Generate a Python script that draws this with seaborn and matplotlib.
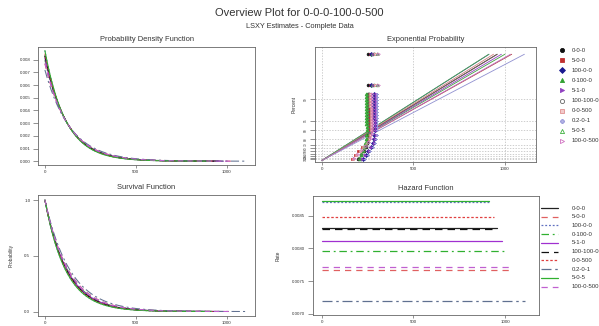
import numpy as np
import pandas as pd
import matplotlib
matplotlib.use("Agg")
import matplotlib.pyplot as plt
from matplotlib.lines import Line2D
import seaborn as sns

sns.set_theme(style="white")
plt.rcParams["font.family"] = ["Liberation Sans", "DejaVu Sans"]

# ---- data -------------------------------------------------------------
series = ["0-0-0", "5-0-0", "100-0-0", "0-100-0", "5-1-0",
          "100-100-0", "0-0-500", "0.2-0-1", "5-0-5", "100-0-500"]

# fitted exponential failure rate of each configuration
hazard_rate = [0.00831, 0.00767, 0.00871, 0.007955, 0.00811,
               0.00830, 0.00848, 0.00719, 0.00872, 0.00772]

# upper plotting percentile for the fitted lines
upper_pct = 99.965

# median-rank percent of each plotted failure (top to bottom)
rank_pct = [99.965, 99.64, 99.30, 99.12, 98.90, 98.62, 98.27, 97.84,
            97.29, 96.61, 95.75, 94.67, 93.33, 91.63, 89.52, 85.84,
            80.87, 74.16, 65.1, 52.85, 36.3, 14.0]

fail_times = {
    "0-0-0":     [255, 255, 251, 251, 252, 252, 252, 253, 253, 253, 254,
                  254, 254, 255, 255, 255, 254, 249, 241, 229, 215, 201],
    "5-0-0":     [262, 262, 257, 257, 257, 258, 258, 258, 259, 259, 259,
                  259, 260, 260, 259, 257, 252, 240, 222, 200, 182, 166],
    "100-0-0":   [268, 268, 286, 286, 287, 287, 287, 288, 288, 288, 288,
                  289, 289, 289, 289, 288, 285, 279, 268, 255, 240, 226],
    "0-100-0":   [274, 274, 243, 243, 243, 244, 244, 244, 244, 245, 245,
                  245, 245, 246, 246, 245, 243, 239, 233, 225, 216, 207],
    "5-1-0":     [281, 281, 295, 295, 296, 296, 296, 297, 297, 297, 298,
                  298, 298, 298, 298, 297, 293, 285, 272, 256, 239, 223],
    "100-100-0": [288, 288, 261, 261, 262, 262, 262, 263, 263, 263, 263,
                  264, 264, 264, 264, 263, 260, 254, 245, 233, 219, 205],
    "0-0-500":   [294, 294, 265, 265, 266, 266, 266, 267, 267, 267, 268,
                  268, 268, 268, 267, 264, 257, 245, 228, 208, 189, 172],
    "0.2-0-1":   [300, 300, 302, 302, 303, 303, 303, 304, 304, 304, 305,
                  305, 305, 305, 304, 302, 298, 290, 279, 265, 251, 238],
    "5-0-5":     [307, 307, 248, 248, 249, 249, 249, 249, 250, 250, 250,
                  250, 251, 251, 251, 250, 248, 244, 237, 228, 218, 208],
    "100-0-500": [313, 313, 280, 280, 281, 281, 281, 282, 282, 282, 283,
                  283, 283, 283, 282, 279, 272, 260, 243, 222, 200, 180],
}

prob_ticks = [10, 20, 30, 40, 50, 60, 70, 80, 90, 95, 99]

# ---- styles -----------------------------------------------------------
line_colors = ["#222222", "#e06060", "#6070c0", "#30b030", "#a030d0",
               "#111111", "#e04040", "#607090", "#30b030", "#c060d0"]
line_dashes = ["", (5, 4), (1.5, 1.5), (6, 3, 1.5, 3), "",
               (6, 4), (2, 1.5), (8, 3, 2, 3), "", (5, 4)]

fit_colors = ["#222222", "#b04040", "#3030a0", "#40a040", "#9040c0",
              "#806060", "#d08080", "#9090d0", "#50b050", "#c070c0"]
mk_shape = ["o", "s", "D", "^", ">", "o", "s", "P", "^", ">"]
mk_face = ["#111111", "#c03030", "#1a1a90", "#30a030", "#9040c0",
           "none", "#f2caca", "#b8b8e8", "none", "none"]
mk_edge = ["#111111", "#c03030", "#1a1a90", "#30a030", "#9040c0",
           "#666666", "#e09090", "#9898d8", "#40b040", "#d070c0"]

# ---- long-form tables -------------------------------------------------
rows = []
for name, lam in zip(series, hazard_rate):
    t_end = -np.log(1 - upper_pct / 100) / lam
    t = np.linspace(0, t_end, 200)
    rows.append(pd.DataFrame({
        "series": name, "t": t,
        "pdf": lam * np.exp(-lam * t),
        "surv": np.exp(-lam * t),
        "rate": np.full_like(t, lam),
        "fit": lam * t,
    }))
curves = pd.concat(rows, ignore_index=True)

pts = pd.DataFrame([
    {"series": name, "t": tt, "q": -np.log(1 - p / 100)}
    for name in series for tt, p in zip(fail_times[name], rank_pct)
])

pal_lines = dict(zip(series, line_colors))
dash_map = dict(zip(series, line_dashes))
pal_fit = dict(zip(series, fit_colors))

# ---- figure -----------------------------------------------------------
W, H = 599, 326
fig = plt.figure(figsize=(W / 100, H / 100), dpi=100)


def box(l, t, r, b):
    return [l / W, 1 - b / H, (r - l) / W, (b - t) / H]


def fx(x):
    return x / W


def fy(y):
    return 1 - y / H


ax_pdf = fig.add_axes(box(38, 47, 255, 165))
ax_prob = fig.add_axes(box(315, 47, 536, 162))
ax_surv = fig.add_axes(box(38, 195, 255, 316))
ax_haz = fig.add_axes(box(313, 196, 539, 315))

txt = "#333333"
edge = "#666666"
for ax in (ax_pdf, ax_prob, ax_surv, ax_haz):
    for sp in ax.spines.values():
        sp.set_color(edge)
        sp.set_linewidth(0.6)
    ax.tick_params(direction="out", length=3.5, width=0.5, color=edge,
                   labelsize=3.2, labelcolor=txt, pad=2,
                   left=True, bottom=True)
    ax.tick_params(axis="x", length=2.5, pad=1)
    ax.set_xticks([0, 500, 1000])

# probability density
sns.lineplot(data=curves, x="t", y="pdf", hue="series", style="series",
             palette=pal_lines, dashes=dash_map, lw=0.75, legend=False,
             estimator=None, sort=False, ax=ax_pdf)
ax_pdf.set_xlim(-38, 1155)
ax_pdf.set_ylim(-0.0003, 0.0090)
pdf_ticks = [0.000, 0.001, 0.002, 0.003, 0.004, 0.005, 0.006, 0.007, 0.008]
ax_pdf.set_yticks(pdf_ticks)
ax_pdf.set_yticklabels([f"{v:.3f}" for v in pdf_ticks])
ax_pdf.set_title("Probability Density Function", fontsize=5.4, color=txt, pad=4)
ax_pdf.set_xlabel("")
ax_pdf.set_ylabel("")

# survival
sns.lineplot(data=curves, x="t", y="surv", hue="series", style="series",
             palette=pal_lines, dashes=dash_map, lw=0.75, legend=False,
             estimator=None, sort=False, ax=ax_surv)
ax_surv.set_xlim(-38, 1155)
ax_surv.set_ylim(-0.04, 1.045)
ax_surv.set_yticks([0.0, 0.5, 1.0])
ax_surv.set_yticklabels(["0.0", "0.5", "1.0"])
ax_surv.set_title("Survival Function", fontsize=5.4, color=txt, pad=4)
ax_surv.set_xlabel("")
ax_surv.set_ylabel("Probability", fontsize=3.5, color=txt, labelpad=8)

# hazard
sns.lineplot(data=curves, x="t", y="rate", hue="series", style="series",
             palette=pal_lines, dashes=dash_map, lw=0.9, legend=False,
             estimator=None, sort=False, ax=ax_haz)
ax_haz.set_xlim(-47, 1185)
ax_haz.set_ylim(0.00698, 0.0088)
haz_ticks = [0.0070, 0.0075, 0.0080, 0.0085]
ax_haz.set_yticks(haz_ticks)
ax_haz.set_yticklabels([f"{v:.4f}" for v in haz_ticks])
ax_haz.set_title("Hazard Function", fontsize=5.4, color=txt, pad=4)
ax_haz.set_xlabel("")
ax_haz.set_ylabel("Rate", fontsize=3.5, color=txt, labelpad=8)

# exponential probability plot
qt = [-np.log(1 - p / 100) for p in prob_ticks]
for v in qt:
    ax_prob.axhline(v, color="#bbbbbb", lw=0.5, ls=(0, (2, 2)), zorder=0)
for v in (0, 500, 1000):
    ax_prob.axvline(v, color="#bbbbbb", lw=0.5, ls=(0, (2, 2)), zorder=0)
sns.lineplot(data=curves, x="t", y="fit", hue="series", palette=pal_fit,
             lw=0.6, legend=False, estimator=None, sort=False, ax=ax_prob)
for i, name in enumerate(series):
    sub = pts[pts["series"] == name]
    sns.scatterplot(data=sub, x="t", y="q", marker=mk_shape[i], s=4,
                    facecolor=mk_face[i], edgecolor=mk_edge[i],
                    linewidth=0.5, legend=False, ax=ax_prob, zorder=3)
ax_prob.set_xlim(-36, 1170)
ax_prob.set_ylim(-0.1, 8.5)
ax_prob.set_yticks(qt)
ax_prob.set_yticklabels([str(p) for p in prob_ticks], rotation=90,
                        va="center")
ax_prob.tick_params(axis="y", labelsize=2.3, pad=1.5)
ax_prob.set_title("Exponential Probability", fontsize=5.4, color=txt, pad=4)
ax_prob.set_xlabel("")
ax_prob.set_ylabel("Percent", fontsize=3.5, color=txt, labelpad=5)

# legend: markers of the probability plot
for i, name in enumerate(series):
    y = 50 + 10.1 * i
    fig.add_artist(Line2D([fx(561.5)], [fy(y)], transform=fig.transFigure,
                          ls="none", marker=mk_shape[i], ms=3,
                          mfc=mk_face[i], mec=mk_edge[i], mew=0.6))
    fig.text(fx(571.5), fy(y), name, fontsize=4.3, color=txt,
             ha="left", va="center")

# legend: line styles of the curves
for i, name in enumerate(series):
    y = 208 + 8.74 * i
    ln = Line2D([fx(541), fx(558)], [fy(y), fy(y)], transform=fig.transFigure,
                color=line_colors[i], lw=0.9)
    if line_dashes[i]:
        ln.set_dashes(line_dashes[i])
    fig.add_artist(ln)
    fig.text(fx(571.5), fy(y), name, fontsize=4.3, color=txt,
             ha="left", va="center")

fig.text(0.5, fy(13), "Overview Plot for 0-0-0-100-0-500",
         ha="center", va="center", fontsize=8, color=txt)
fig.text(0.5, fy(27), "LSXY Estimates - Complete Data",
         ha="center", va="center", fontsize=5.3, color=txt)

fig.savefig("out.png", dpi=100)
